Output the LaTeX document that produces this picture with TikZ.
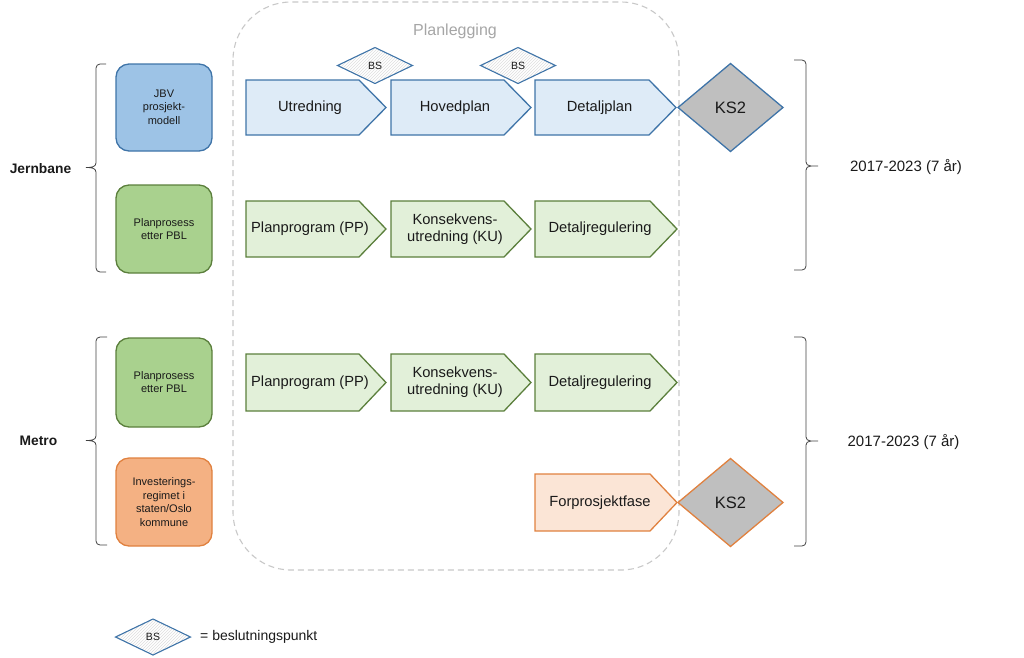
\documentclass[tikz,border=0pt]{standalone}
\usepackage{fontspec}
\setmainfont{Liberation Sans}
\usetikzlibrary{patterns}
\definecolor{bluebd}{HTML}{3F74A8}
\definecolor{bluefill}{HTML}{9DC3E6}
\definecolor{bluelight}{HTML}{DEEBF7}
\definecolor{greenbd}{HTML}{5B7F3C}
\definecolor{greenfill}{HTML}{A9D18E}
\definecolor{greenlight}{HTML}{E2F0D9}
\definecolor{orangebd}{HTML}{E0813F}
\definecolor{orangefill}{HTML}{F4B183}
\definecolor{orangelight}{HTML}{FBE5D6}
\definecolor{ksgray}{HTML}{BFBFBF}
\definecolor{dashgray}{HTML}{C8C8C8}
\definecolor{titlegray}{HTML}{A6A6A6}
\definecolor{txt}{HTML}{1A1A1A}
\definecolor{bracecol}{HTML}{404040}
\tikzset{
  chevblue/.style={draw=bluebd,fill=bluelight,line width=1.3pt,line join=miter},
  chevgreen/.style={draw=greenbd,fill=greenlight,line width=1.3pt,line join=miter},
  chevorange/.style={draw=orangebd,fill=orangelight,line width=1.3pt,line join=miter},
  chevtext/.style={text=txt,align=center,inner sep=0pt,font=\fontsize{14.7}{17}\selectfont},
  sidebox/.style={rounded corners=13pt,line width=1.3pt},
  sidetext/.style={text=txt,align=center,inner sep=0pt,font=\fontsize{11}{13.5}\selectfont},
  bsdiamond/.style={draw=bluebd,line width=1.1pt,preaction={fill=white},pattern=north east lines,pattern color=gray!25},
  bstext/.style={text=txt,inner sep=0pt,font=\fontsize{10.5}{12}\selectfont},
  ksdiamond/.style={fill=ksgray,line width=1.3pt},
  kstext/.style={text=txt,inner sep=0pt,font=\fontsize{16.5}{19}\selectfont},
  bracestyle/.style={draw=bracecol,line width=0.8pt},
  grouptext/.style={text=txt,inner sep=0pt,font=\bfseries\fontsize{13.8}{16}\selectfont},
  yeartext/.style={text=txt,inner sep=0pt,font=\fontsize{15}{17}\selectfont},
}
\newcommand\chev[7]{%
  \draw[#6] (#2,#4) -- ({#3-27},#4) -- (#3,{(#4+#5)/2}) -- ({#3-27},#5) -- (#2,#5) -- cycle;
  \node[chevtext] (#1) at ({(#2+#3)/2-6},{(#4+#5)/2}) {#7};
}
\newcommand\bsd[3]{%
  \draw[bsdiamond] ({#2-37.5},#3) -- (#2,{#3-18}) -- ({#2+37.5},#3) -- (#2,{#3+18}) -- cycle;
  \node[bstext] (#1) at (#2,#3) {BS};
}
\newcommand\ksd[4]{%
  \draw[ksdiamond,draw=#4] ({#2-52.5},#3) -- (#2,{#3-44}) -- ({#2+52.5},#3) -- (#2,{#3+44}) -- cycle;
  \node[kstext] (#1) at (#2,#3) {KS2};
}
\begin{document}
\begin{tikzpicture}[x=1pt,y=-1pt]
\useasboundingbox (0,0) rectangle (1024,657);
% planning frame
\draw[dashgray,line width=1.1pt,dash pattern=on 6pt off 4pt,rounded corners=58pt] (233,2) rectangle (679,570);
\node[text=titlegray,inner sep=0pt,font=\fontsize{16}{19}\selectfont] (plan) at (455,31) {Planlegging};

% left boxes
\draw[sidebox,draw=bluebd,fill=bluefill] (116,64) rectangle (212,151);
\node[sidetext] (jbv) at (164,107) {JBV\\prosjekt-\\modell};
\draw[sidebox,draw=greenbd,fill=greenfill] (116,185) rectangle (212,273);
\node[sidetext] (pbl1) at (164,229) {Planprosess\\etter PBL};
\draw[sidebox,draw=greenbd,fill=greenfill] (116,338) rectangle (212,427);
\node[sidetext] (pbl2) at (164,382) {Planprosess\\etter PBL};
\draw[sidebox,draw=orangebd,fill=orangefill] (116,458) rectangle (212,546);
\node[sidetext] (inv) at (164,502) {Investerings-\\regimet i\\staten/Oslo\\kommune};

% left braces
\draw[bracestyle] (106,64) -- (100,64) to[out=180,in=90] (96,68) -- (96,163) to[out=-90,in=0] (86,167.5) to[out=0,in=90] (96,172) -- (96,268) to[out=-90,in=180] (100,272) -- (106,272);
\node[grouptext] (jern) at (40.5,168.5) {Jernbane};
\draw[bracestyle] (107,337) -- (100,337) to[out=180,in=90] (96,341) -- (96,436) to[out=-90,in=0] (86,440.5) to[out=0,in=90] (96,445) -- (96,541) to[out=-90,in=180] (100,545) -- (107,545);
\node[grouptext] (metro) at (38.5,441) {Metro};

% right braces
\draw[bracestyle] (794,60) -- (802,60) to[out=0,in=90] (806,64) -- (806,162) to[out=-90,in=180] (818,166) to[out=180,in=90] (806,170) -- (806,266) to[out=-90,in=0] (802,270) -- (794,270);
\node[yeartext] (yr1) at (906,166.5) {2017-2023 (7 år)};
\draw[bracestyle] (794,337) -- (802,337) to[out=0,in=90] (806,341) -- (806,437) to[out=-90,in=180] (818,441) to[out=180,in=90] (806,445) -- (806,542) to[out=-90,in=0] (802,546) -- (794,546);
\node[yeartext] (yr2) at (903.5,441.5) {2017-2023 (7 år)};

% row 1
\chev{utr}{246}{386}{80}{135}{chevblue}{Utredning}
\chev{hov}{391}{531}{80}{135}{chevblue}{Hovedplan}
\chev{det}{535}{676}{80}{135}{chevblue}{Detaljplan}
\bsd{bs1}{375}{65.5}
\bsd{bs2}{518}{65.5}
\ksd{ks1}{730.5}{107.5}{bluebd}

% row 2
\chev{pp1}{246}{386}{201}{257}{chevgreen}{Planprogram (PP)}
\chev{ku1}{391}{531}{201}{257}{chevgreen}{Konsekvens-\\utredning (KU)}
\chev{dr1}{535}{677}{201}{257}{chevgreen}{Detaljregulering}

% row 3
\chev{pp2}{246}{386}{354}{411}{chevgreen}{Planprogram (PP)}
\chev{ku2}{391}{531}{354}{411}{chevgreen}{Konsekvens-\\utredning (KU)}
\chev{dr2}{535}{677}{354}{411}{chevgreen}{Detaljregulering}

% row 4
\chev{forp}{535}{677}{474}{531}{chevorange}{Forprosjektfase}
\ksd{ks2}{730.5}{502.5}{orangebd}

% legend
\bsd{bsl}{153}{637}
\node[anchor=west,text=txt,inner sep=0pt,font=\fontsize{14}{16}\selectfont] (legend) at (200,637) {= beslutningspunkt};
\end{tikzpicture}
\end{document}
